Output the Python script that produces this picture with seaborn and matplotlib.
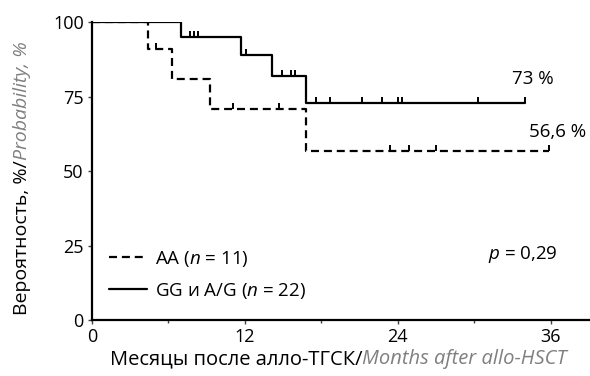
import numpy as np
import pandas as pd
import matplotlib
matplotlib.use("Agg")
import matplotlib.pyplot as plt
import seaborn as sns

# Kaplan-Meier steps: event times (months) and survival (%) after each step
gg_times = [0, 7.0, 11.7, 14.1, 16.8, 34.0]
gg_surv = [100, 95, 89, 82, 73, 73]
gg_censor = [1.5, 5.8, 7.7, 8.0, 8.3, 12.1, 14.9, 15.6, 15.9, 17.6, 18.7,
             21.2, 22.8, 24.0, 24.3, 30.3, 34.0]

aa_times = [0, 4.4, 6.25, 9.25, 16.8, 35.9]
aa_surv = [100, 90.9, 80.8, 70.7, 56.6, 56.6]
aa_censor = [5.0, 11.1, 14.7, 23.4, 24.9, 27.0, 35.9]

x_ticks = [0, 12, 24, 36]
y_ticks = [0, 25, 50, 75, 100]
gg_label = "GG и A/G ($n$ = 22)"
aa_label = "AA ($n$ = 11)"
p_text = "$p$ = 0,29"

sns.set_theme(style="ticks")
plt.rcParams["font.family"] = ["Open Sans", "DejaVu Sans"]
plt.rcParams["mathtext.fontset"] = "custom"
plt.rcParams["mathtext.rm"] = "Open Sans"
plt.rcParams["mathtext.it"] = "Open Sans:italic"
for key in ["text.color", "axes.labelcolor", "xtick.labelcolor",
            "ytick.labelcolor"]:
    plt.rcParams[key] = "black"

FS_TICK = 13
FS = 13.5
FS_LABEL = 14.5
GREY = "#7f7f7f"

fig = plt.figure(figsize=(5.9, 3.76), dpi=100)
ax = fig.add_axes([0.156, 0.149, 0.844, 0.792])

curves = pd.concat([
    pd.DataFrame({"t": aa_times, "s": aa_surv, "g": aa_label}),
    pd.DataFrame({"t": gg_times, "s": gg_surv, "g": gg_label}),
])

sns.lineplot(data=curves[curves.g == aa_label], x="t", y="s", ax=ax,
             drawstyle="steps-post", color="black", lw=1.6,
             linestyle=(0, (3.6, 2.2)), label=aa_label,
             estimator=None, sort=False)
sns.lineplot(data=curves[curves.g == gg_label], x="t", y="s", ax=ax,
             drawstyle="steps-post", color="black", lw=1.6,
             label=gg_label, estimator=None, sort=False)


def step_value(times, surv, t):
    idx = np.searchsorted(times, t, side="right") - 1
    return np.asarray(surv)[idx]


# censored observations: short upward ticks on the curve
tick_marker = [(0, 0), (0, 1)]
for times, surv, cens in [(aa_times, aa_surv, aa_censor),
                          (gg_times, gg_surv, gg_censor)]:
    ax.plot(cens, step_value(times, surv, cens), linestyle="none",
            marker=tick_marker, ms=8, mew=1.4, color="black")

ax.text(33.0, 81, "73 %", fontsize=FS, ha="left", va="center")
ax.text(34.3, 63, "56,6 %", fontsize=FS, ha="left", va="center")
ax.text(31.1, 22, p_text, fontsize=FS, ha="left", va="center")

leg = ax.legend(loc="lower left", bbox_to_anchor=(0.008, 0.02),
                frameon=False, fontsize=FS, handlelength=2.0,
                handletextpad=0.45, labelspacing=0.65, borderaxespad=0.3)
for t in leg.get_texts():
    t.set_color("black")

ax.set_xlim(0, 39.1)
ax.set_ylim(0, 100)
ax.set_xticks(x_ticks)
ax.set_xticks([6, 18, 30], minor=True)
ax.set_yticks(y_ticks)
ax.tick_params(axis="both", labelsize=FS_TICK, length=3, width=1.0, pad=3,
               color="#444444", labelcolor="black")
ax.tick_params(axis="x", which="minor", length=2, width=1.0, color="#444444")
for side in ["top", "right"]:
    ax.spines[side].set_visible(False)
for side in ["left", "bottom"]:
    ax.spines[side].set_linewidth(1.6)
    ax.spines[side].set_color("black")
ax.set_xlabel("")
ax.set_ylabel("")

# Two-colour axis titles: Russian part in black, English part in grey italic
fig.canvas.draw()
r = fig.canvas.get_renderer()

x1 = fig.text(0, 0.045, "Месяцы после алло-ТГСК/", fontsize=FS_LABEL,
              ha="left", va="center", color="black")
x2 = fig.text(0, 0.045, "Months after allo-HSCT", fontsize=FS_LABEL,
              ha="left", va="center", color=GREY, style="italic")
w1 = x1.get_window_extent(r).width
w2 = x2.get_window_extent(r).width
cx = 338
start = cx - (w1 + w2) / 2
x1.set_x(start / 590)
x2.set_x((start + w1) / 590)

FS_YLABEL = 14
y1 = fig.text(0.038, 0, "Вероятность, %/", fontsize=FS_YLABEL, rotation=90,
              ha="center", va="bottom", color="black")
y2 = fig.text(0.038, 0, "Probability, %", fontsize=FS_YLABEL, rotation=90,
              ha="center", va="bottom", color=GREY, style="italic")
h1 = y1.get_window_extent(r).height
h2 = y2.get_window_extent(r).height
cy = 376 - 178
bottom = cy - (h1 + h2) / 2
y1.set_y(bottom / 376)
y2.set_y((bottom + h1) / 376)

fig.savefig("out.png", dpi=100)
